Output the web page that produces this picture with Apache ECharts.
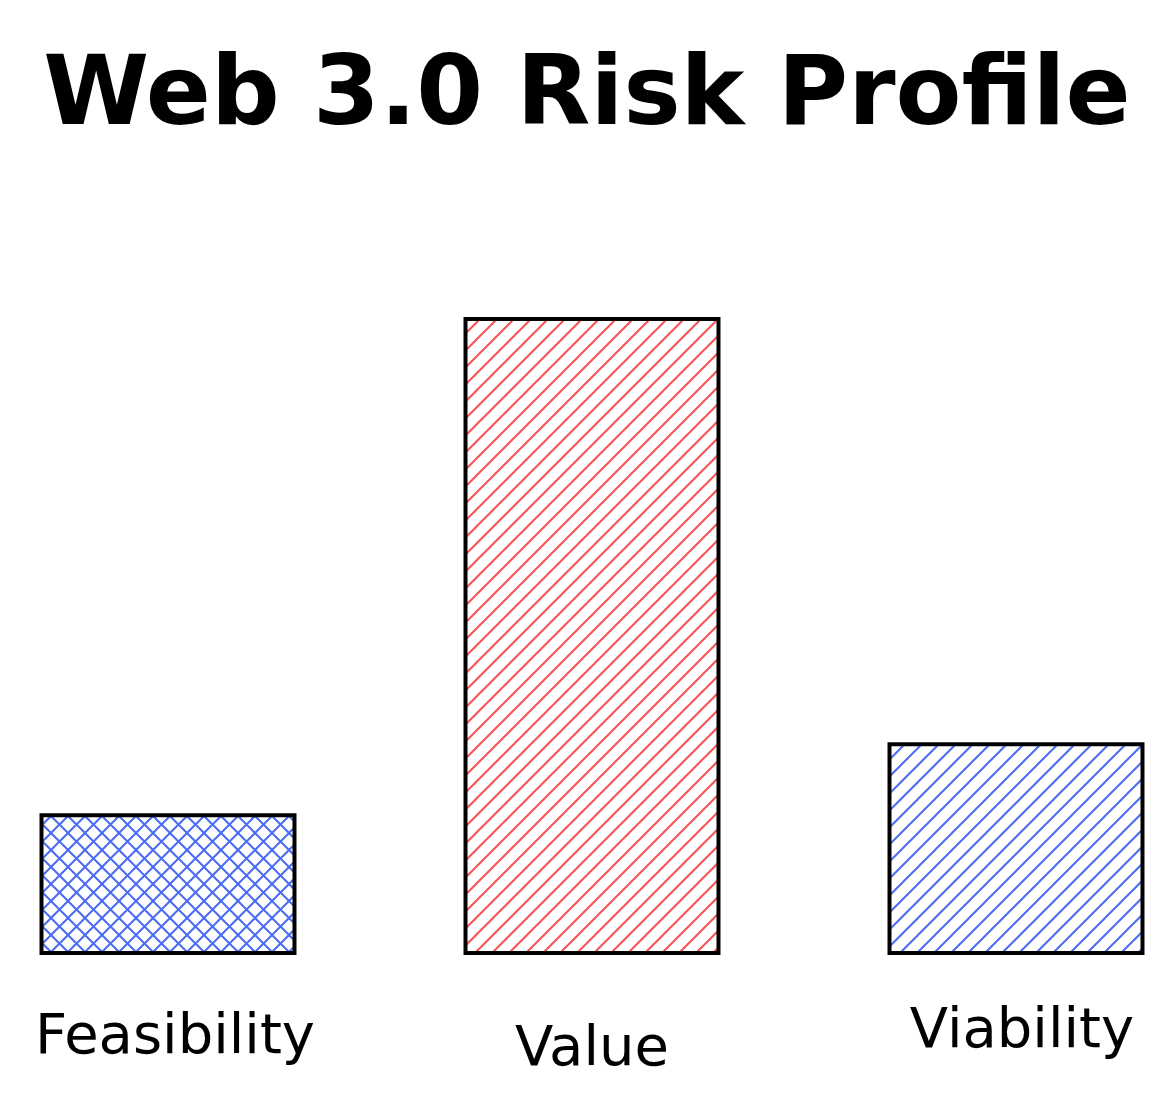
<!DOCTYPE html>
<html>
<head>
<meta charset="utf-8">
<style>
  html, body { margin: 0; padding: 0; background: #ffffff; }
  #chart { width: 1174px; height: 1112px; }
</style>
<script src="https://cdn.jsdelivr.net/npm/echarts@6/dist/echarts.min.js"></script>
</head>
<body>
<div id="chart"></div>
<script>
// ---- data ----
const titleText = 'Web 3.0 Risk Profile';
const categories = ['Feasibility', 'Value', 'Viability'];
const riskValues = [2, 9, 3];
const barColors = ['#4a6cf4', '#fa5252', '#4a6cf4'];
const crossHatch = [true, false, false];

// ---- hatch patterns (style only) ----
function makeHatch(color, cross) {
  const s = 17;
  const c = document.createElement('canvas');
  c.width = s; c.height = s;
  const ctx = c.getContext('2d');
  ctx.strokeStyle = color;
  ctx.lineWidth = 2;
  ctx.lineCap = 'square';
  const diag = (x0, y0, x1, y1) => { ctx.beginPath(); ctx.moveTo(x0, y0); ctx.lineTo(x1, y1); ctx.stroke(); };
  for (const o of [-s, 0, s]) diag(o, s, o + s, 0);
  if (cross) {
    for (const o of [-s, 0, s]) diag(o, 0, o + s, s);
  }
  return c;
}

const chart = echarts.init(document.getElementById('chart'), null, { renderer: 'canvas' });

const seriesData = riskValues.map((v, i) => ({
  value: v,
  itemStyle: {
    color: { image: makeHatch(barColors[i], crossHatch[i]), repeat: 'repeat' },
    borderColor: '#000000',
    borderWidth: 4
  }
}));

const labelPads = [[6, 0, 0, 14], [18, 0, 0, 0], [0, 0, 0, 12]];
const axisData = categories.map((c, i) => ({ value: c, textStyle: { padding: labelPads[i] } }));

chart.setOption({
  backgroundColor: '#ffffff',
  animation: false,
  title: {
    text: titleText,
    left: 'center',
    top: 46,
    textStyle: {
      fontFamily: 'DejaVu Sans',
      fontWeight: 'bold',
      fontSize: 96,
      color: '#000000'
    }
  },
  grid: { left: 168, right: 158, top: 317, bottom: 157, containLabel: false },
  xAxis: {
    type: 'category',
    data: axisData,
    boundaryGap: false,
    axisLine: { show: false },
    axisTick: { show: false },
    splitLine: { show: false },
    axisLabel: {
      margin: 49,
      fontFamily: 'DejaVu Sans',
      fontSize: 56,
      color: '#000000'
    }
  },
  yAxis: {
    type: 'value',
    min: 0,
    max: 9,
    show: false
  },
  series: [{
    type: 'bar',
    data: seriesData,
    barWidth: 257,
    clip: false
  }]
});
</script>
</body>
</html>
